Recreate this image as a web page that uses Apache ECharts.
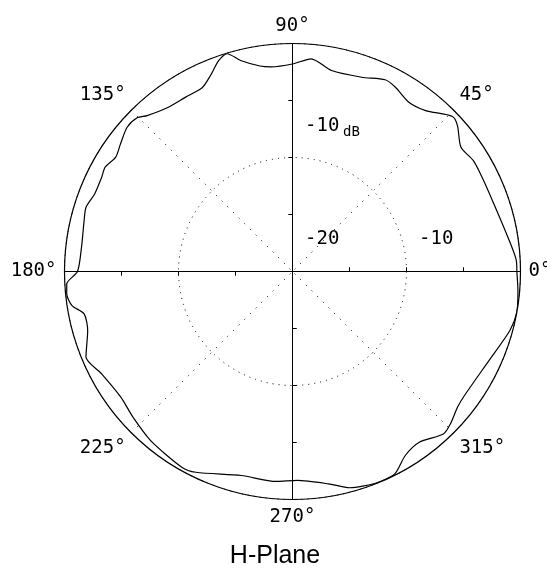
<!DOCTYPE html>
<html>
<head>
<meta charset="utf-8">
<script src="https://cdn.jsdelivr.net/npm/echarts@6/dist/echarts.min.js"></script>
<style>
  html, body { margin: 0; padding: 0; background: #fff; }
  #chart { width: 547px; height: 572px; }
</style>
</head>
<body>
<div id="chart"></div>
<script>
// 量測角度 (度)
const angles = [
  0, 3, 10, 19.5, 26.5, 31.5, 36.4, 41.5, 44.1, 50.4, 55.5, 60.8, 64.2, 70.4,
  79, 85, 90, 96, 99, 103.8, 106.7, 109.3, 112.7, 116.2, 121.5, 127.4, 133,
  135.3, 138.9, 143.4, 147.1, 150.9, 153.7, 158.6, 162.7, 166.2, 173.4, 180,
  183.1, 185.6, 188.8, 191.5, 196.1, 202.5, 208.2, 216.2, 222.4, 230, 240.5,
  244.3, 255.9, 265.5, 271.3, 279.6, 284.8, 291.4, 296.8, 301.5, 306.6, 312.9,
  316, 320.6, 324.2, 335.6, 344.8, 349.8, 355, 360
];
// 相對增益 (dB)
const gainDb = [
  -0.32, -0.35, -0.94, -1.39, -1.43, -1.39, -1.64, -0.68, -0.46, -1.68, -1.99, -1.49, -1.32, -1.91,
  -2.04, -1.27, -1.8, -1.95, -1.75, -0.94, -0.06, -0.4, -1.36, -2.04, -2.06, -1.92, -1.3,
  -0.83, -0.75, -1.21, -1.53, -1.19, -1.33, -1.36, -1.03, -1.18, -1.37, -1.14,
  -0.17, -0.1, -0.43, -1.35, -1.3, -0.39, -1.0, -1.34, -1.05, -0.64, -0.28,
  -0.46, -1.55, -1.53, -1.67, -1.11, -0.38, -0.05, -0.11, -1.07, -1.35, -0.55,
  -0.75, -1.26, -1.4, -1.08, -0.24, 0, -0.15, -0.32
];
const dbMin = -20;
const dbMax = 0;
const title = "H-Plane";

const center = [292.5, 271.5];
const radius = 228;
const mono = "DejaVu Sans Mono";

const chart = echarts.init(document.getElementById("chart"));

// 主座標：外圈、-10dB 虛線圓、45 度虛線
const polar = [{ center: center, radius: radius }];
const angleAxis = [{
  polarIndex: 0,
  type: "value",
  min: 0,
  max: 360,
  interval: 45,
  startAngle: 0,
  clockwise: false,
  axisLine: { show: true, lineStyle: { color: "#000", width: 1.2 } },
  axisTick: { show: false },
  axisLabel: {
    show: true,
    margin: 8,
    color: "#000",
    fontFamily: mono,
    fontSize: 19,
    formatter: (v) => (v === 360 ? "" : v + "°"),
  },
  splitLine: { show: true, lineStyle: { color: "#000", width: 1, type: [1, 7] } },
}];
const radiusAxis = [{
  polarIndex: 0,
  type: "value",
  min: dbMin,
  max: dbMax,
  interval: 10,
  axisLine: { show: false },
  axisTick: { show: false },
  axisLabel: { show: false },
  splitLine: { show: true, lineStyle: { color: "#000", width: 1, type: [1, 5] } },
}];

// 十字軸 + 刻度 (每個方向一組，刻度兩側各一次)
const dirs = [0, 90, 180, 270];
[false, true].forEach((inside) => {
  dirs.forEach((a) => {
    const idx = polar.length;
    polar.push({ center: center, radius: radius });
    angleAxis.push({
      polarIndex: idx,
      type: "value",
      min: 0,
      max: 360,
      startAngle: a,
      clockwise: false,
      show: false,
    });
    radiusAxis.push({
      polarIndex: idx,
      type: "value",
      min: dbMin,
      max: dbMax,
      interval: 5,
      z: 5,
      axisLine: { show: true, lineStyle: { color: "#000", width: 1 } },
      axisTick: { show: true, inside: inside, length: 4, lineStyle: { color: "#000", width: 1 } },
      axisLabel: { show: false },
      splitLine: { show: false },
    });
  });
});

chart.setOption({
  animation: false,
  backgroundColor: "#fff",
  polar: polar,
  angleAxis: angleAxis,
  radiusAxis: radiusAxis,
  series: [{
    type: "line",
    coordinateSystem: "polar",
    polarIndex: 0,
    showSymbol: false,
    smooth: 0.25,
    z: 10,
    lineStyle: { color: "#000", width: 1.2 },
    data: angles.map((a, i) => [gainDb[i], a]),
  }],
  graphic: [
    { type: "text", left: 305, top: 117, style: { text: "-10", fill: "#000", font: "19px " + mono } },
    { type: "text", left: 343, top: 125, style: { text: "dB", fill: "#000", font: "14px " + mono } },
    { type: "text", left: 305, top: 230, style: { text: "-20", fill: "#000", font: "19px " + mono } },
    { type: "text", left: 419, top: 230, style: { text: "-10", fill: "#000", font: "19px " + mono } },
    {
      type: "text",
      x: 275,
      y: 556,
      style: {
        text: title,
        fill: "#000",
        font: "25px 'Liberation Sans', Arial, sans-serif",
        textAlign: "center",
        textVerticalAlign: "middle",
      },
    },
  ],
});
</script>
</body>
</html>
